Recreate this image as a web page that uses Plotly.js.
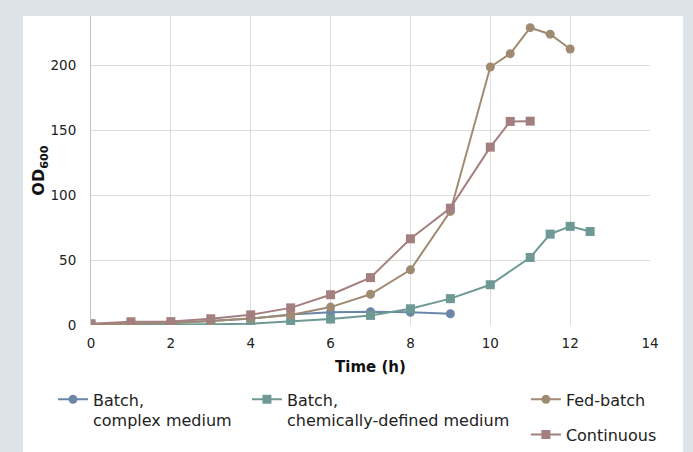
<!DOCTYPE html>
<html>
<head>
<meta charset="utf-8">
<script src="https://cdn.plot.ly/plotly-3.0.1.min.js"></script>
<style>
html,body{margin:0;padding:0;background:#dce4e9;}
#panel{position:absolute;left:23px;top:16px;width:660px;height:436px;background:#ffffff;}
#chart{position:absolute;left:0;top:0;width:693px;height:452px;}
</style>
</head>
<body>
<div id="panel"></div>
<div id="chart"></div>
<script>
// Data
const seriesNames = ["Batch,<br>complex medium", "Batch,<br>chemically-defined medium", "Fed-batch", "Continuous"];

const timeBatchComplex = [0, 1, 2, 3, 4, 5, 6, 7, 8, 9];
const odBatchComplex   = [0.5, 0.8, 1.5, 3, 5, 8, 9.8, 10.2, 9.8, 8.7];

const timeBatchChem = [0, 1, 2, 3, 4, 5, 6, 7, 8, 9, 10, 11, 11.5, 12, 12.5];
const odBatchChem   = [0, 0, 0.3, 0.5, 1, 2.6, 4.6, 7.4, 12.5, 20.3, 31, 52, 70, 76, 72];

const timeFedBatch = [0, 1, 2, 3, 4, 5, 6, 7, 8, 9, 10, 10.5, 11, 11.5, 12];
const odFedBatch   = [0.5, 1, 1.5, 3, 5, 7.7, 13.8, 23.7, 42.5, 87.5, 198.7, 209, 229, 224, 212.6];

const timeContinuous = [0, 1, 2, 3, 4, 5, 6, 7, 8, 9, 10, 10.5, 11];
const odContinuous   = [1, 2.5, 2.6, 4.8, 7.8, 13.2, 23.3, 36.5, 66.4, 90, 137, 156.8, 157];

const xTicks = [0, 2, 4, 6, 8, 10, 12, 14];
const yTicks = [0, 50, 100, 150, 200];

const colors = ["#6b86a6", "#6f9994", "#a08b72", "#a47f80"];
const symbols = ["circle", "square", "circle", "square"];
const legendIds = ["legend", "legend2", "legend3", "legend4"];
const xs = [timeBatchComplex, timeBatchChem, timeFedBatch, timeContinuous];
const ys = [odBatchComplex, odBatchChem, odFedBatch, odContinuous];

const traces = xs.map((x, i) => ({
  x: x, y: ys[i], type: "scatter", mode: "lines+markers",
  name: seriesNames[i], legend: legendIds[i],
  line: {color: colors[i], width: 2},
  marker: {color: colors[i], symbol: symbols[i], size: 9},
  hoverinfo: "x+y"
}));

const font = "DejaVu Sans, Verdana, sans-serif";
const legendBase = {
  orientation: "v", xanchor: "left", yanchor: "top", valign: "top",
  bgcolor: "rgba(0,0,0,0)", borderwidth: 0, itemwidth: 30,
  font: {family: font, size: 16, color: "#222"}
};

const layout = {
  width: 693, height: 452,
  margin: {l: 91, r: 43, t: 16, b: 127, pad: 0, autoexpand: false},
  paper_bgcolor: "rgba(0,0,0,0)",
  plot_bgcolor: "rgba(0,0,0,0)",
  font: {family: font, size: 14, color: "#222"},
  showlegend: true,
  xaxis: {
    range: [0, 14], tickvals: xTicks, ticktext: xTicks.map(String),
    showgrid: true, gridcolor: "#dcdcdc", gridwidth: 1,
    zeroline: false, showline: false, ticks: "",
    ticklabelstandoff: 8,
    tickfont: {family: font, size: 13.5, color: "#222"},
    title: {text: "<b>Time (h)</b>", font: {family: font, size: 15, color: "#111"}, standoff: 11}
  },
  yaxis: {
    range: [0, 238], tickvals: yTicks, ticktext: yTicks.map(String),
    showgrid: true, gridcolor: "#dcdcdc", gridwidth: 1,
    zeroline: false, showline: true, linecolor: "#c4c4c4", linewidth: 1, ticks: "",
    ticklabelstandoff: 11,
    tickfont: {family: font, size: 13.5, color: "#222"},
    title: {text: "<b>OD<sub>600</sub></b>", font: {family: font, size: 16, color: "#111"}, standoff: 0}
  },
  legend:  Object.assign({}, legendBase, {x: -0.068, y: -0.186}),
  legend2: Object.assign({}, legendBase, {x: 0.279, y: -0.186}),
  legend3: Object.assign({}, legendBase, {x: 0.778, y: -0.186}),
  legend4: Object.assign({}, legendBase, {x: 0.778, y: -0.30})
};

Plotly.newPlot("chart", traces, layout, {displayModeBar: false, staticPlot: true});
</script>
</body>
</html>
